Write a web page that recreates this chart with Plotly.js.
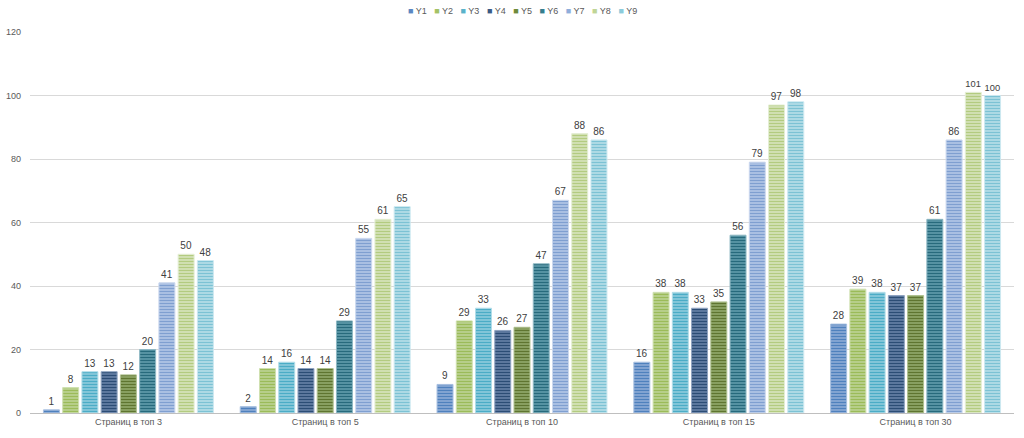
<!DOCTYPE html>
<html><head><meta charset="utf-8">
<script src="https://cdn.plot.ly/plotly-3.0.1.min.js"></script>
<style>html,body{margin:0;padding:0;background:#fff}#c{width:1024px;height:438px}</style>
</head><body><div id="c"></div>
<script>
const categories = ["Страниц в топ 3","Страниц в топ 5","Страниц в топ 10","Страниц в топ 15","Страниц в топ 30"];
const seriesNames = ["Y1","Y2","Y3","Y4","Y5","Y6","Y7","Y8","Y9"];
const Y1 = [1,2,9,16,28];
const Y2 = [8,14,29,38,39];
const Y3 = [13,16,33,38,38];
const Y4 = [13,14,26,33,37];
const Y5 = [12,14,27,35,37];
const Y6 = [20,29,47,56,61];
const Y7 = [41,55,67,79,86];
const Y8 = [50,61,88,97,101];
const Y9 = [48,65,86,98,100];
const yTicks = [0,20,40,60,80,100,120];

const series = [Y1,Y2,Y3,Y4,Y5,Y6,Y7,Y8,Y9];
const fg = ["#4F81BD","#9BBB59","#4BACC6","#2C4D75","#5F7530","#276A7C","#7F9FD0","#B3CB80","#7CC2D4"];
const bg = ["#8CAAD6","#BCD293","#8CCADC","#6580A6","#90A86A","#5E9AAA","#B2C6E6","#D6E4BC","#B6DEE8"];
const edge = ["#A7BFE0","#CFE0B0","#B0DCE8","#8FA3C0","#AFC090","#8EB8C4","#CBD8EE","#E4EED4","#CCE8F0"];
const legendSwatch = ["#5B87C2","#A4C266","#5AB2CA","#3A5A85","#6E8A3A","#357D8E","#8FAEDB","#C0D596","#8CCBDB"];

const FONT = "Liberation Sans, Arial, sans-serif";

const traces = series.map((v,i)=>({
  type:"bar", name:seriesNames[i], x:categories, y:v,
  text:v.map(String), textposition:"outside", cliponaxis:false,
  textfont:{family:FONT, size:10, color:"#404040"},
  marker:{color:bg[i], line:{color:edge[i], width:1},
    pattern:{shape:"-", fgcolor:fg[i], bgcolor:bg[i], size:3, solidity:0.45}},
  hoverinfo:"x+y+name", showlegend:false
}));

const legendText = seriesNames.map((n,i)=>
  '<span style="color:'+legendSwatch[i]+';font-size:9px">■</span> '+n).join('&nbsp;&nbsp;&nbsp;');

Plotly.newPlot("c", traces, {
  width:1024, height:438,
  margin:{l:30, r:10, t:32, b:25},
  paper_bgcolor:"#fff", plot_bgcolor:"#fff",
  barmode:"group", bargap:0.12, bargroupgap:0.17,
  font:{family:FONT, size:10, color:"#595959"},
  showlegend:false,
  annotations:[{xref:"paper", yref:"paper", x:0.5, y:1.055, xanchor:"center", yanchor:"middle",
    showarrow:false, text:legendText, font:{family:FONT, size:9, color:"#595959"}}],
  xaxis:{showgrid:false, showline:true, linecolor:"#BFBFBF", linewidth:1, ticks:"",
    tickfont:{size:9, color:"#595959"}, fixedrange:true},
  yaxis:{range:[0,120], tickvals:yTicks, ticktext:yTicks.map(String), showgrid:true,
    gridcolor:"#D9D9D9", gridwidth:1, zeroline:false, showline:false, ticks:"",
    tickfont:{size:9, color:"#595959"}, ticklabelstandoff:8, fixedrange:true}
}, {displayModeBar:false, staticPlot:true});
</script></body></html>
